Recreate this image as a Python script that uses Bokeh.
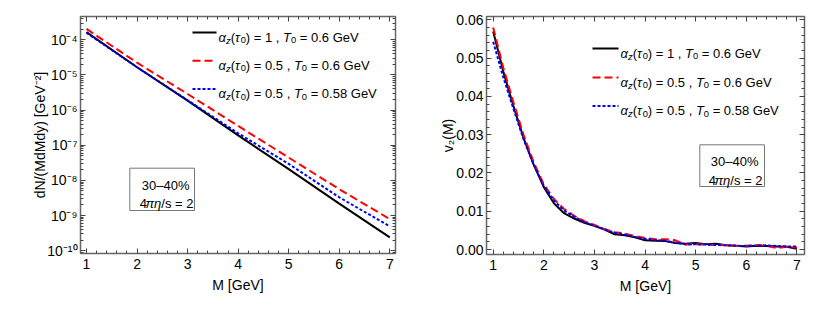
import math
from bokeh.plotting import figure
from bokeh.layouts import row
from bokeh.models import (ColumnDataSource, FixedTicker, CustomJSTickFormatter,
                          PrintfTickFormatter, LinearAxis, LogAxis, Range1d)
from bokeh.core.properties import value
from bokeh.embed import file_html
from bokeh.resources import INLINE

FONT = "Liberation Sans"

# ---------------- data ----------------
mass_spec = [1, 2, 3, 4, 5, 6, 7]
spec_a1_T060 = [1.66e-4, 1.66e-5, 1.86e-6, 1.91e-7, 2.09e-8, 2.19e-9, 2.40e-10]
spec_a05_T060 = [2.04e-4, 2.24e-5, 2.88e-6, 3.55e-7, 4.47e-8, 5.62e-9, 7.94e-10]
spec_a05_T058 = [1.58e-4, 1.66e-5, 1.91e-6, 2.19e-7, 2.95e-8, 3.31e-9, 4.90e-10]

mass_v2 = [1.0, 1.2, 1.4, 1.6, 1.8, 2.0, 2.2, 2.4, 2.6, 2.8, 3.0, 3.2, 3.4, 3.6, 3.8,
           4.0, 4.2, 4.4, 4.6, 4.8, 5.0, 5.2, 5.4, 5.6, 5.8, 6.0, 6.2, 6.4, 6.6, 6.8, 7.0]
v2_a1_T060 = [0.0570, 0.0465, 0.0375, 0.0292, 0.0222, 0.0163, 0.0121, 0.0095, 0.0081, 0.0070,
              0.0062, 0.0052, 0.0040, 0.0037, 0.0032, 0.0024, 0.0023, 0.0022, 0.0017, 0.0015,
              0.0017, 0.0014, 0.0015, 0.0011, 0.0010, 0.0008, 0.0010, 0.0009, 0.0008, 0.0007, 0.0002]
v2_a05_T060 = [0.0580, 0.0475, 0.0385, 0.0300, 0.0228, 0.0170, 0.0132, 0.0106, 0.0088, 0.0074,
               0.0064, 0.0053, 0.0045, 0.0042, 0.0035, 0.0030, 0.0027, 0.0027, 0.0024, 0.0013,
               0.0014, 0.0013, 0.0012, 0.0012, 0.0009, 0.0010, 0.0012, 0.0010, 0.0004, 0.0007, 0.0005]
v2_a05_T058 = [0.0543, 0.0450, 0.0368, 0.0288, 0.0222, 0.0166, 0.0128, 0.0102, 0.0086, 0.0072,
               0.0062, 0.0053, 0.0044, 0.0039, 0.0033, 0.0028, 0.0025, 0.0023, 0.0018, 0.0014,
               0.0014, 0.0013, 0.0012, 0.0011, 0.0010, 0.0009, 0.0010, 0.0011, 0.0009, 0.0008, 0.0008]

x_ticks = [1, 2, 3, 4, 5, 6, 7]
spec_ticks = [1e-10, 1e-9, 1e-8, 1e-7, 1e-6, 1e-5, 1e-4]
v2_ticks = [0.0, 0.01, 0.02, 0.03, 0.04, 0.05, 0.06]

x_title = "M [GeV]"
spec_title = "dN/(MdMdy) [GeV⁻²]"
v2_title = "v₂(M)"

# legend label pieces: (text, kind) n=normal, i=italic, s=subscript, si=subscript italic
legend_labels = [
    [("α", "i"), ("z", "si"), ("(", "n"), ("τ", "i"), ("0", "s"), (") = 1 , ", "n"),
     ("T", "i"), ("0", "s"), (" = 0.6 GeV", "n")],
    [("α", "i"), ("z", "si"), ("(", "n"), ("τ", "i"), ("0", "s"), (") = 0.5 , ", "n"),
     ("T", "i"), ("0", "s"), (" = 0.6 GeV", "n")],
    [("α", "i"), ("z", "si"), ("(", "n"), ("τ", "i"), ("0", "s"), (") = 0.5 , ", "n"),
     ("T", "i"), ("0", "s"), (" = 0.58 GeV", "n")],
]
box_lines = [
    [("30–40%", "n")],
    [("4", "n"), ("πη", "i"), ("/s = 2", "n")],
]

colors = ["black", "#ff0000", "#0000ff"]
dashes = ["solid", "8 4", "3 2"]

# ---------------- helpers ----------------
W = {' ': 278, '\u00a0': 278, '(': 333, ')': 333, ',': 278, '.': 278, '=': 584, '%': 889,
     '/': 278, 'G': 778, 'e': 556, 'V': 667, 'T': 611, 'z': 500, 's': 500, '–': 556,
     'α': 578, 'τ': 432, 'π': 556, 'η': 556}


def text_width(s, size):
    return sum(W.get(c, 556) for c in s) * size / 1000.0


def compose(pieces, size, align):
    items = []
    for txt, kind in pieces:
        txt = txt.replace(" ", "\u00a0")
        sub = kind.startswith("s")
        fs = size * 0.72 if sub else size
        st = "italic" if "i" in kind else "normal"
        items.append([txt, 0.0, 3.0 if sub else 0.0, "%.1fpx" % fs, st, text_width(txt, fs)])
    if align == "left":
        x = 0.0
        for it in items:
            it[1] = x
            x += it[5]
    else:  # anchor from the right edge, each piece right-aligned
        x = 0.0
        for it in reversed(items):
            it[1] = x
            x -= it[5]
    return items


class Frame:
    def __init__(self, xr, yr, w, h, log=False):
        self.xr, self.yr, self.w, self.h, self.log = xr, yr, w, h, log

    def x(self, px):
        return self.xr[0] + px / self.w * (self.xr[1] - self.xr[0])

    def y(self, py):
        if self.log:
            lo, hi = math.log10(self.yr[0]), math.log10(self.yr[1])
            return 10 ** (hi - py / self.h * (hi - lo))
        return self.yr[1] - py / self.h * (self.yr[1] - self.yr[0])


def add_texts(p, fr, entries, size):
    d = dict(x=[], y=[], text=[], dx=[], dy=[], fsize=[], fstyle=[], falign=[])
    for pieces, xpx, cpy, align in entries:
        for txt, dx, dy, fs, st, _w in compose(pieces, size, align):
            d["x"].append(fr.x(xpx))
            d["y"].append(fr.y(cpy + 0.35 * size))
            d["text"].append(txt)
            d["dx"].append(dx)
            d["dy"].append(dy)
            d["fsize"].append(fs)
            d["fstyle"].append(st)
            d["falign"].append(align)
    p.text(x="x", y="y", text="text", x_offset="dx", y_offset="dy", source=ColumnDataSource(d),
           text_font=value(FONT), text_font_size="fsize", text_font_style="fstyle",
           text_baseline="alphabetic", text_align="falign", text_color="black")


def style(p, xt_minor, yt, yt_minor, yfmt, log=False):
    p.xaxis[0].ticker = FixedTicker(ticks=x_ticks, minor_ticks=xt_minor)
    p.yaxis[0].ticker = FixedTicker(ticks=yt, minor_ticks=yt_minor)
    p.yaxis[0].formatter = yfmt
    p.xaxis[0].formatter = PrintfTickFormatter(format="%d")
    top = LinearAxis(ticker=FixedTicker(ticks=x_ticks, minor_ticks=xt_minor))
    right = (LogAxis if log else LinearAxis)(ticker=FixedTicker(ticks=yt, minor_ticks=yt_minor))
    for ax in (top, right):
        ax.formatter = CustomJSTickFormatter(code="return '';")
        ax.major_label_standoff = 0
    p.add_layout(top, "above")
    p.add_layout(right, "right")
    for ax in p.axis:
        ax.axis_line_color = None
        ax.major_tick_in = 5
        ax.major_tick_out = 0
        ax.minor_tick_in = 3
        ax.minor_tick_out = 0
        ax.major_tick_line_color = "#444"
        ax.minor_tick_line_color = "#444"
        ax.major_label_text_font = FONT
        ax.major_label_text_font_size = "0px" if ax in (top, right) else "14px"
        ax.major_label_text_color = "black"
        ax.axis_label_text_font = FONT
        ax.axis_label_text_font_size = "14px"
        ax.axis_label_text_font_style = "normal"
        ax.axis_label_text_color = "black"
    p.xaxis[0].major_label_standoff = 9
    p.xaxis[0].axis_label_standoff = 0
    p.yaxis[0].major_label_standoff = 3
    p.outline_line_color = "#666"
    p.outline_line_width = 1.5
    p.grid.visible = False
    p.background_fill_color = "white"
    p.border_fill_color = "white"


x_minor = [round(1 + 0.2 * k, 2) for k in range(31) if k % 5 != 0]

# ---------------- left panel ----------------
L_xr = (0.881, 7.113)
L_yr = (10 ** -10.08, 10 ** -3.336)
L_w, L_h = 315, 237
p1 = figure(frame_width=L_w, frame_height=L_h, x_range=Range1d(*L_xr), y_range=Range1d(*L_yr),
            y_axis_type="log", output_backend="svg", toolbar_location=None,
            min_border_left=80, min_border_right=13, min_border_top=16, min_border_bottom=45,
            x_axis_label=x_title, y_axis_label=spec_title)
sup_fmt = CustomJSTickFormatter(code="""
const e = Math.round(Math.log10(tick));
const m = {"-":"⁻","0":"⁰","1":"¹","2":"²","3":"³","4":"⁴","5":"⁵","6":"⁶","7":"⁷","8":"⁸","9":"⁹"};
return "10" + String(e).split("").map(c => m[c]).join("");
""")
log_minor = [k * 10.0 ** e for e in range(-11, -3) for k in range(2, 10)]
style(p1, x_minor, spec_ticks, log_minor, sup_fmt, log=True)
p1.yaxis[0].axis_label_standoff = -4

for ys, c, d in zip([spec_a1_T060, spec_a05_T060, spec_a05_T058], colors, dashes):
    p1.line(mass_spec, ys, line_color=c, line_width=2, line_dash=d)

f1 = Frame(L_xr, L_yr, L_w, L_h, log=True)
L_rows = [16, 44.3, 72.5]
for cy, c, d in zip(L_rows, colors, dashes):
    p1.line([f1.x(112), f1.x(136)], [f1.y(cy), f1.y(cy)], line_color=c, line_width=2, line_dash=d)
p1.quad(left=[f1.x(49.3)], right=[f1.x(114)], top=[f1.y(151.7)], bottom=[f1.y(194)],
        fill_color="white", line_color="#777", line_width=1)
add_texts(p1, f1, [(legend_labels[i], 138, L_rows[i], "left") for i in range(3)], 13)
add_texts(p1, f1, [(box_lines[0], 109, 164, "right"), (box_lines[1], 113, 182.3, "right")], 13)

# ---------------- right panel ----------------
R_xr = (0.868, 7.150)
R_yr = (-0.0013, 0.0609)
R_w, R_h = 318, 238
p2 = figure(frame_width=R_w, frame_height=R_h, x_range=Range1d(*R_xr), y_range=Range1d(*R_yr),
            output_backend="svg", toolbar_location=None,
            min_border_left=78, min_border_right=8, min_border_top=15, min_border_bottom=45,
            x_axis_label=x_title, y_axis_label=v2_title)
v2_minor = [round(0.002 * k, 3) for k in range(31) if k % 5 != 0]
style(p2, x_minor, v2_ticks, v2_minor, PrintfTickFormatter(format="%.2f"))
p2.yaxis[0].axis_label_standoff = -3

for ys, c, d in zip([v2_a1_T060, v2_a05_T060, v2_a05_T058], colors, dashes):
    p2.line(mass_v2, ys, line_color=c, line_width=2, line_dash=d)

f2 = Frame(R_xr, R_yr, R_w, R_h)
R_rows = [32, 61, 89.5]
for cy, c, d in zip(R_rows, colors, dashes):
    p2.line([f2.x(106), f2.x(132)], [f2.y(cy), f2.y(cy)], line_color=c, line_width=2, line_dash=d)
p2.quad(left=[f2.x(213.3)], right=[f2.x(278)], top=[f2.y(128.3)], bottom=[f2.y(170)],
        fill_color="white", line_color="#777", line_width=1)
add_texts(p2, f2, [(legend_labels[i], 134, R_rows[i], "left") for i in range(3)], 13)
add_texts(p2, f2, [(box_lines[0], 272, 140, "right"), (box_lines[1], 276, 159.3, "right")], 13)

layout = row(p1, p2)
open("out.html", "w").write(file_html(layout, INLINE))
